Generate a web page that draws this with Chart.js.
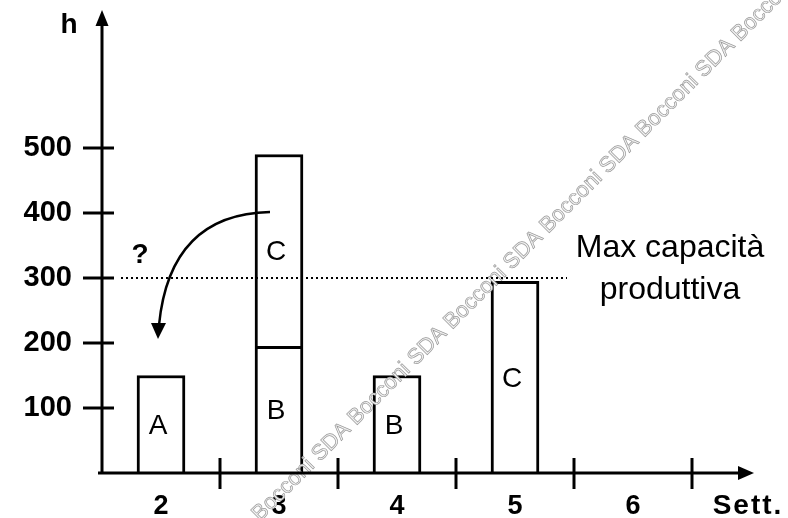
<!DOCTYPE html>
<html>
<head>
<meta charset="utf-8">
<script src="https://cdn.jsdelivr.net/npm/chart.js@4"></script>
<style>
  html, body { margin: 0; padding: 0; background: #fff; }
</style>
</head>
<body>
<canvas id="chart" width="788" height="518"></canvas>
<script>
// Data
const weeks = ['2', '3', '4', '5', '6'];
const productA = [150, null, null, null, null];
const productB = [null, 195, 150, null, null];
const productC = [null, 295, null, 295, null];
const yTicks = [100, 200, 300, 400, 500];
const maxCapacity = 300;

const FONT = '"Liberation Sans", Arial, sans-serif';

// Draws the hand-made axes, arrows, labels and annotations
const sketchPlugin = {
    id: 'sketch',
    afterDatasetsDraw(chart) {
        const ctx = chart.ctx;
        const xs = chart.scales.x;
        const ys = chart.scales.y;
        const x0 = xs.left;
        const y0 = ys.getPixelForValue(0);

        ctx.save();
        ctx.strokeStyle = '#000';
        ctx.fillStyle = '#000';

        // watermark
        ctx.save();
        ctx.translate(260, 522);
        ctx.rotate(-Math.PI / 4);
        ctx.font = '22px ' + FONT;
        ctx.textBaseline = 'alphabetic';
        const wm = 'Bocconi SDA Bocconi SDA Bocconi SDA Bocconi SDA Bocconi SDA Bocconi';
        ctx.fillStyle = '#f2f2f2';
        ctx.fillText(wm, 0, 0);
        ctx.strokeStyle = '#999';
        ctx.lineWidth = 0.7;
        ctx.strokeText(wm, 0, 0);
        ctx.restore();

        // bar labels
        ctx.font = '28px ' + FONT;
        ctx.textAlign = 'center';
        ctx.textBaseline = 'middle';
        chart.data.datasets.forEach((ds, i) => {
            const meta = chart.getDatasetMeta(i);
            meta.data.forEach((bar, j) => {
                if (ds.data[j] == null) return;
                ctx.fillText(ds.label, bar.x - 3, (bar.y + bar.base) / 2 + 2);
            });
        });

        // dotted max capacity line
        const yc = ys.getPixelForValue(maxCapacity);
        ctx.lineWidth = 2;
        ctx.setLineDash([2, 3]);
        ctx.beginPath();
        ctx.moveTo(x0 + 19, yc);
        ctx.lineTo(567, yc);
        ctx.stroke();
        ctx.setLineDash([]);

        // axes
        ctx.lineWidth = 3;
        ctx.beginPath();
        ctx.moveTo(x0, y0 + 1.5);
        ctx.lineTo(x0, 24);
        ctx.moveTo(x0 - 4, y0);
        ctx.lineTo(740, y0);
        ctx.stroke();

        // arrow heads
        ctx.beginPath();
        ctx.moveTo(x0, 10);
        ctx.lineTo(x0 - 6.5, 26);
        ctx.lineTo(x0 + 6.5, 26);
        ctx.closePath();
        ctx.fill();
        ctx.beginPath();
        ctx.moveTo(754, y0);
        ctx.lineTo(738, y0 - 7);
        ctx.lineTo(738, y0 + 7);
        ctx.closePath();
        ctx.fill();

        // y tick marks
        ctx.lineWidth = 3;
        yTicks.forEach(v => {
            const py = ys.getPixelForValue(v);
            ctx.beginPath();
            ctx.moveTo(x0 - 19, py);
            ctx.lineTo(x0 + 12, py);
            ctx.stroke();
        });

        // week separators
        weeks.forEach((w, i) => {
            const px = xs.getPixelForValue(i + 0.5);
            ctx.beginPath();
            ctx.moveTo(px, y0 - 15);
            ctx.lineTo(px, y0 + 16);
            ctx.stroke();
        });

        // curved arrow
        ctx.lineWidth = 2.5;
        ctx.beginPath();
        ctx.moveTo(270, 212);
        ctx.quadraticCurveTo(170, 214, 159, 325);
        ctx.stroke();
        ctx.beginPath();
        ctx.moveTo(158, 339);
        ctx.lineTo(151, 323);
        ctx.lineTo(166, 323);
        ctx.closePath();
        ctx.fill();

        // texts
        ctx.font = 'bold 28px ' + FONT;
        ctx.textAlign = 'center';
        ctx.textBaseline = 'middle';
        ctx.fillText('h', 69, 25);
        ctx.fillText('?', 140, 255);
        ctx.letterSpacing = '2px';
        ctx.fillText('Sett.', 748, 506);
        ctx.letterSpacing = '0px';
        ctx.font = '32px ' + FONT;
        ctx.fillText('Max capacità', 670, 248);
        ctx.fillText('produttiva', 670, 290);

        ctx.restore();
    }
};

const barStyle = {
    backgroundColor: '#fff',
    borderColor: '#000',
    borderWidth: 3,
    barThickness: 48
};

new Chart(document.getElementById('chart'), {
    type: 'bar',
    data: {
        labels: weeks,
        datasets: [
            { label: 'A', data: productA, ...barStyle },
            { label: 'B', data: productB, ...barStyle },
            { label: 'C', data: productC, ...barStyle }
        ]
    },
    options: {
        responsive: false,
        animation: false,
        layout: { padding: { top: 18, right: 96, left: 0, bottom: 0 } },
        plugins: {
            legend: { display: false },
            tooltip: { enabled: false }
        },
        scales: {
            x: {
                stacked: true,
                grid: { display: false, drawTicks: false },
                border: { display: false },
                ticks: {
                    color: '#000',
                    padding: 17,
                    font: { family: FONT, size: 27, weight: 'bold' }
                },
                afterFit(scale) {
                    scale.height = 45;
                    scale.paddingLeft = 0;
                    scale.paddingRight = 0;
                }
            },
            y: {
                stacked: true,
                min: 0,
                max: 700,
                grid: { display: false, drawTicks: false },
                border: { display: false },
                afterBuildTicks(scale) {
                    scale.ticks = yTicks.map(v => ({ value: v }));
                },
                ticks: {
                    color: '#000',
                    padding: 30,
                    font: { family: FONT, size: 29, weight: 'bold' }
                },
                afterFit(scale) {
                    scale.width = 102;
                    scale.paddingTop = 0;
                    scale.paddingBottom = 0;
                }
            }
        }
    },
    plugins: [sketchPlugin]
});
</script>
</body>
</html>
